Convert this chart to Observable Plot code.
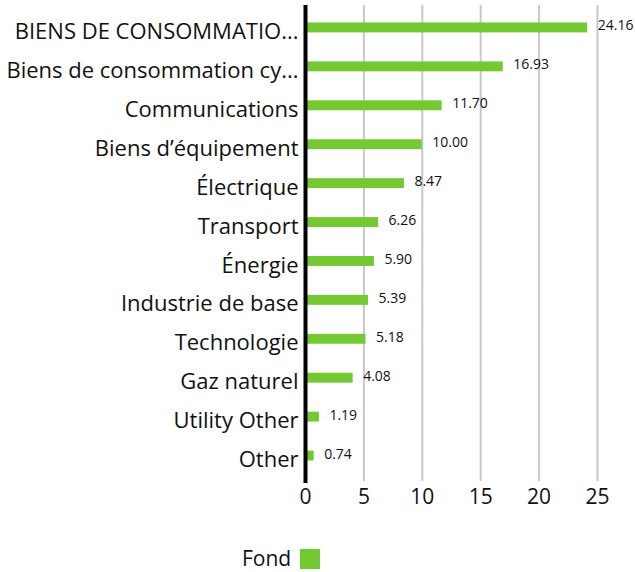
<!DOCTYPE html>
<html>
<head>
<meta charset="utf-8">
<script src="https://cdn.jsdelivr.net/npm/d3@7"></script>
<script src="https://cdn.jsdelivr.net/npm/@observablehq/plot@0.6"></script>
<style>
  html, body { margin: 0; padding: 0; background: #fff; }
  #wrap { position: relative; width: 635px; height: 572px; font-family: "Open Sans", sans-serif; color: #111; }
  #chart svg { display: block; }
  #legend-text { position: absolute; left: 242px; top: 545px; font-size: 21px; line-height: 26px; white-space: nowrap; }
  #legend-sw { position: absolute; left: 300px; top: 549px; width: 20px; height: 20px; background: #74c932; }
</style>
</head>
<body>
<div id="wrap">
  <div id="chart"></div>
  <span id="legend-text"></span>
  <span id="legend-sw"></span>
</div>
<script>
const categories = [
  "BIENS DE CONSOMMATIO...",
  "Biens de consommation cy...",
  "Communications",
  "Biens d’équipement",
  "Électrique",
  "Transport",
  "Énergie",
  "Industrie de base",
  "Technologie",
  "Gaz naturel",
  "Utility Other",
  "Other"
];
const values = [24.16, 16.93, 11.70, 10.00, 8.47, 6.26, 5.90, 5.39, 5.18, 4.08, 1.19, 0.74];
const xTicks = [0, 5, 10, 15, 20, 25];
const seriesName = "Fond";

const data = categories.map((c, i) => ({category: c, value: values[i]}));
const green = "#74c932";

const plot = Plot.plot({
  width: 635,
  height: 515,
  marginLeft: 305,
  marginRight: 38,
  marginTop: 8,
  marginBottom: 40,
  style: {fontFamily: "Open Sans, sans-serif", color: "#111", background: "#fff"},
  x: {domain: [0, 25], ticks: xTicks, label: null},
  y: {domain: categories, padding: 0, round: false, label: null},
  marks: [
    Plot.ruleX(xTicks.filter(d => d > 0), {stroke: "#c8c8c8", strokeWidth: 2, insetTop: -3, insetBottom: -6}),
    Plot.barX(data, {y: "category", x: "value", fill: green, insetTop: 14.5, insetBottom: 14.5}),
    Plot.text(data, {y: "category", x: "value", text: d => d.value.toFixed(2), textAnchor: "start", dx: 10, dy: -2, fontSize: 14, fill: "#111"}),
    Plot.ruleX([0], {stroke: "#000", strokeWidth: 4, insetTop: -3, insetBottom: -8}),
    Plot.axisY({tickSize: 0, tickPadding: 7, fontSize: 22, dy: 4, label: null}),
    Plot.axisX({ticks: xTicks, tickSize: 0, tickPadding: 14, fontSize: 21, label: null})
  ]
});
document.getElementById("chart").appendChild(plot);
document.getElementById("legend-text").textContent = seriesName;
</script>
</body>
</html>
